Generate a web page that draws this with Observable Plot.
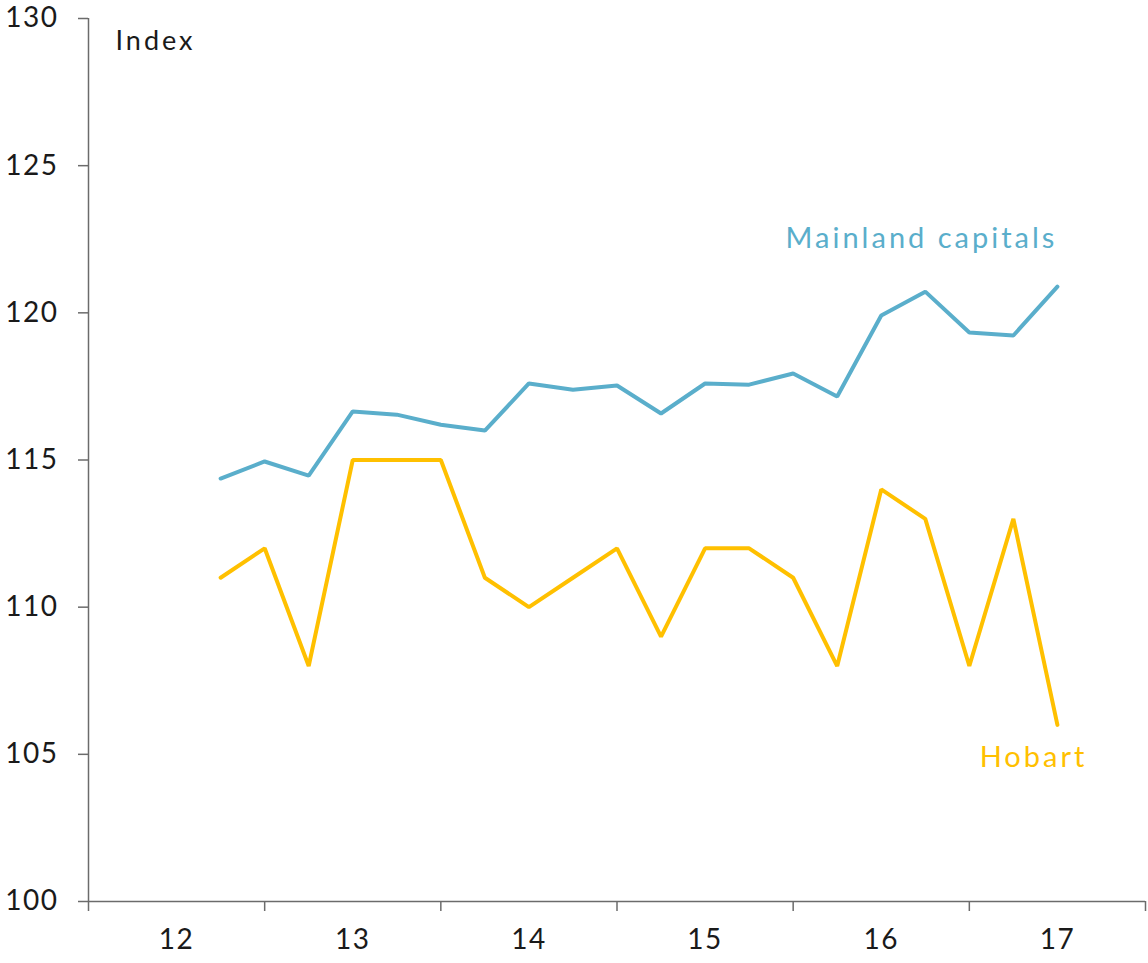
<!DOCTYPE html>
<html>
<head>
<meta charset="utf-8">
<script src="https://cdn.jsdelivr.net/npm/d3@7"></script>
<script src="https://cdn.jsdelivr.net/npm/@observablehq/plot@0.6"></script>
<style>
  html, body { margin: 0; padding: 0; background: #fff; }
  svg { font-family: "Lato", "Open Sans", sans-serif; }
  .lbl text { letter-spacing: 3px; }
  .ax text { letter-spacing: 1.5px; }
</style>
</head>
<body>
<div id="chart"></div>
<script>
// Quarterly time points (fractional years)
const quarters = [2012.75, 2013.0, 2013.25, 2013.5, 2013.75, 2014.0, 2014.25, 2014.5, 2014.75, 2015.0,
                  2015.25, 2015.5, 2015.75, 2016.0, 2016.25, 2016.5, 2016.75, 2017.0, 2017.25, 2017.5];
const mainland = [114.37, 114.95, 114.47, 116.65, 116.54, 116.20, 116.0, 117.6, 117.39, 117.53,
                  116.58, 117.6, 117.56, 117.94, 117.16, 119.91, 120.72, 119.33, 119.23, 120.89];
const hobart = [111, 112, 108, 115, 115, 115, 111, 110, 111, 112,
                109, 112, 112, 111, 108, 114, 113, 108, 113, 106];
const yearTicks = [2012, 2013, 2014, 2015, 2016, 2017, 2018];
const yearLabels = [2012.5, 2013.5, 2014.5, 2015.5, 2016.5, 2017.5];
const yTicks = [100, 105, 110, 115, 120, 125, 130];
const seriesNames = ["Mainland capitals", "Hobart"];
const colors = ["#5aaecb", "#ffc000"];

const rows = [];
quarters.forEach((q, i) => {
  rows.push({t: q, v: mainland[i], s: seriesNames[0]});
  rows.push({t: q, v: hobart[i], s: seriesNames[1]});
});
const last = [
  {t: quarters[quarters.length - 1], v: mainland[mainland.length - 1], s: seriesNames[0]},
  {t: quarters[quarters.length - 1], v: hobart[hobart.length - 1], s: seriesNames[1]}
];

const axisColor = "#6b6b6b";
const chart = Plot.plot({
  width: 1148,
  height: 963,
  marginLeft: 88,
  marginRight: 3,
  marginTop: 18,
  marginBottom: 62,
  style: {fontSize: "28px", color: "#1a1a1a", background: "#fff"},
  x: {domain: [2012, 2018]},
  y: {domain: [100, 130]},
  color: {domain: seriesNames, range: colors},
  marks: [
    Plot.ruleX([2012], {stroke: axisColor, strokeWidth: 1.5}),
    Plot.ruleY([100], {stroke: axisColor, strokeWidth: 1.5}),
    Plot.axisY({ticks: yTicks, tickSize: 10, tickPadding: 20, stroke: axisColor, strokeWidth: 1.5, label: null, fill: "#1a1a1a", fontSize: 28, className: "ax"}),
    Plot.axisX({ticks: yearTicks, tickSize: 10, tickFormat: () => "", stroke: axisColor, strokeWidth: 1.5, label: null}),
    Plot.axisX({ticks: yearLabels, tickSize: 0, tickPadding: 28, tickFormat: d => String(Math.floor(d) % 100), label: null, fill: "#1a1a1a", fontSize: 28, className: "ax"}),
    Plot.line(rows, {x: "t", y: "v", z: "s", stroke: "s", strokeWidth: 4, strokeLinejoin: "miter", strokeLinecap: "round"}),
    Plot.text([last[0]], {x: "t", y: "v", text: "s", fill: colors[0], textAnchor: "end", dx: 0, dy: -48, fontSize: 29, className: "lbl"}),
    Plot.text([last[1]], {x: "t", y: "v", text: "s", fill: colors[1], textAnchor: "end", dx: 30, dy: 33, fontSize: 29, className: "lbl"}),
    Plot.text(["Index"], {frameAnchor: "top-left", text: d => d, dx: 27, dy: 12, textAnchor: "start", lineAnchor: "top", fill: "#1a1a1a", fontSize: 27, className: "lbl"})
  ]
});
document.getElementById("chart").appendChild(chart);
</script>
</body>
</html>
